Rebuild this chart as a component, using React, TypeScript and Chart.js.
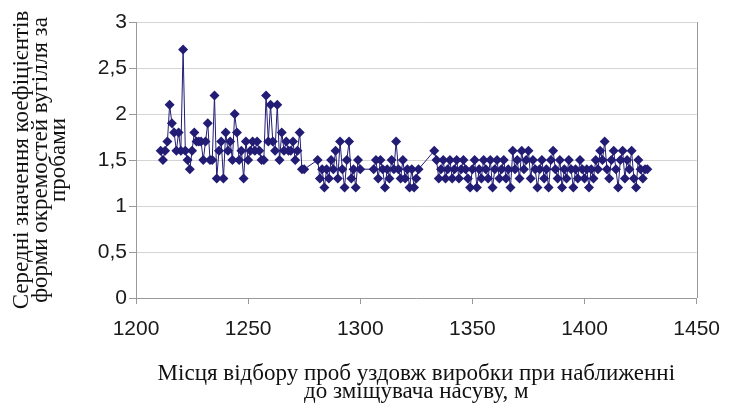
import React, { useEffect, useRef } from "react";
import { Chart, registerables } from "chart.js";

Chart.register(...registerables);

// Sampling positions along the working (m)
const distances: number[] = [
  1211, 1212, 1213, 1214, 1215, 1216, 1217, 1218, 1219, 1220,
  1221, 1222, 1223, 1224, 1225, 1226, 1227, 1228, 1229, 1230,
  1231, 1232, 1233, 1234, 1235, 1236, 1237, 1238, 1239, 1240,
  1241, 1242, 1243, 1244, 1245, 1246, 1247, 1248, 1249, 1250,
  1251, 1252, 1253, 1254, 1255, 1256, 1257, 1258, 1259, 1260,
  1261, 1262, 1263, 1264, 1265, 1266, 1267, 1268, 1269, 1270,
  1271, 1272, 1273, 1274, 1275,
  1281, 1282, 1283, 1284, 1285, 1286, 1287, 1288, 1289, 1290,
  1291, 1292, 1293, 1294, 1295, 1296, 1297, 1298, 1299, 1300,
  1306, 1307, 1308, 1309, 1310, 1311, 1312, 1313, 1314, 1315,
  1316, 1317, 1318, 1319, 1320, 1321, 1322, 1323, 1324, 1325, 1326,
  1333, 1334, 1335, 1336, 1337, 1338, 1339, 1340, 1341, 1342,
  1343, 1344, 1345, 1346, 1347, 1348, 1349, 1350, 1351, 1352,
  1353, 1354, 1355, 1356, 1357, 1358, 1359, 1360, 1361, 1362,
  1363, 1364, 1365, 1366, 1367, 1368, 1369, 1370, 1371, 1372,
  1373, 1374, 1375, 1376, 1377, 1378, 1379, 1380, 1381, 1382,
  1383, 1384, 1385, 1386, 1387, 1388, 1389, 1390, 1391, 1392,
  1393, 1394, 1395, 1396, 1397, 1398, 1399, 1400, 1401, 1402,
  1403, 1404, 1405, 1406, 1407, 1408, 1409, 1410, 1411, 1412,
  1413, 1414, 1415, 1416, 1417, 1418, 1419, 1420, 1421, 1422,
  1423, 1424, 1425, 1426, 1427, 1428,
];

// Mean shape coefficients of coal fragments per sample
const coefficients: number[] = [
  1.6, 1.5, 1.6, 1.7, 2.1, 1.9, 1.8, 1.6, 1.8, 1.6,
  2.7, 1.6, 1.5, 1.4, 1.6, 1.8, 1.7, 1.7, 1.7, 1.5,
  1.7, 1.9, 1.5, 1.5, 2.2, 1.3, 1.6, 1.7, 1.3, 1.8,
  1.6, 1.7, 1.5, 2.0, 1.8, 1.5, 1.6, 1.3, 1.7, 1.5,
  1.6, 1.7, 1.6, 1.7, 1.6, 1.5, 1.5, 2.2, 1.7, 2.1,
  1.7, 1.6, 2.1, 1.5, 1.8, 1.6, 1.7, 1.6, 1.6, 1.7,
  1.5, 1.6, 1.8, 1.4, 1.4,
  1.5, 1.3, 1.4, 1.2, 1.4, 1.3, 1.5, 1.4, 1.6, 1.3,
  1.7, 1.4, 1.2, 1.5, 1.7, 1.3, 1.4, 1.2, 1.5, 1.4,
  1.4, 1.5, 1.3, 1.5, 1.4, 1.2, 1.4, 1.3, 1.5, 1.4,
  1.7, 1.4, 1.3, 1.5, 1.3, 1.4, 1.2, 1.4, 1.2, 1.3, 1.4,
  1.6, 1.5, 1.3, 1.4, 1.5, 1.3, 1.4, 1.5, 1.3, 1.4,
  1.5, 1.3, 1.4, 1.5, 1.4, 1.3, 1.2, 1.4, 1.5, 1.2,
  1.4, 1.3, 1.5, 1.4, 1.3, 1.5, 1.2, 1.4, 1.5, 1.3,
  1.4, 1.5, 1.3, 1.4, 1.2, 1.6, 1.4, 1.5, 1.3, 1.6,
  1.4, 1.5, 1.6, 1.3, 1.5, 1.4, 1.2, 1.4, 1.5, 1.3,
  1.4, 1.2, 1.5, 1.6, 1.4, 1.3, 1.5, 1.2, 1.4, 1.3,
  1.5, 1.4, 1.2, 1.4, 1.3, 1.5, 1.4, 1.3, 1.4, 1.2,
  1.4, 1.3, 1.5, 1.4, 1.6, 1.5, 1.7, 1.4, 1.3, 1.5,
  1.6, 1.4, 1.2, 1.5, 1.6, 1.3, 1.5, 1.4, 1.6, 1.3,
  1.2, 1.5, 1.4, 1.3, 1.4, 1.4,
];

const xTitleLines: string[] = [
  "Місця відбору проб уздовж виробки при наближенні",
  "до зміщувача насуву, м",
];
const yTitleLines: string[] = [
  "Середні значення коефіцієнтів",
  "форми окремостей вугілля за",
  "пробами",
];

const xMin = 1200;
const xMax = 1450;
const xStep = 50;
const yMin = 0;
const yMax = 3;
const yStep = 0.5;

const markColor = "#221c74";
const axisGray = "#9a9a9a";
const gridGray = "#d4d4d4";

const plotBorder = {
  id: "plotBorder",
  afterDraw(chart: any) {
    const { ctx, chartArea } = chart;
    ctx.save();
    ctx.strokeStyle = axisGray;
    ctx.lineWidth = 1;
    ctx.beginPath();
    ctx.moveTo(Math.round(chartArea.right) + 0.5, chartArea.top);
    ctx.lineTo(Math.round(chartArea.right) + 0.5, chartArea.bottom);
    ctx.stroke();
    ctx.restore();
  },
};

export default function App() {
  const ref = useRef<HTMLCanvasElement | null>(null);

  useEffect(() => {
    if (!ref.current) return;
    const points = distances.map((d, i) => ({ x: d, y: coefficients[i] }));
    const chart = new Chart(ref.current, {
      type: "line",
      data: {
        datasets: [
          {
            data: points,
            borderColor: markColor,
            backgroundColor: markColor,
            borderWidth: 1,
            pointStyle: "rectRot",
            pointRadius: 5,
            pointBorderWidth: 0,
            pointBackgroundColor: markColor,
            tension: 0,
          },
        ],
      },
      options: {
        animation: false,
        responsive: false,
        devicePixelRatio: 1,
        layout: { padding: { top: 22, right: 33, bottom: 0, left: 0 } },
        plugins: {
          legend: { display: false },
          tooltip: { enabled: false },
        },
        scales: {
          x: {
            type: "linear",
            min: xMin,
            max: xMax,
            afterFit(scale: any) {
              scale.height = 105;
            },
            ticks: {
              stepSize: xStep,
              color: "#1a1a1a",
              padding: 13,
              font: { family: "Liberation Sans", size: 21 },
              maxRotation: 0,
              callback: (v: any) => String(v),
            },
            grid: {
              drawOnChartArea: false,
              drawTicks: true,
              tickLength: 6,
              color: axisGray,
            },
            border: { display: true, color: axisGray, width: 1 },
            title: {
              display: true,
              text: xTitleLines,
              color: "#111",
              font: { family: "Liberation Serif", size: 23, lineHeight: "18px" },
              padding: { top: 0, bottom: 2 },
            },
          },
          y: {
            type: "linear",
            min: yMin,
            max: yMax,
            afterFit(scale: any) {
              scale.width = 136;
            },
            ticks: {
              stepSize: yStep,
              color: "#1a1a1a",
              padding: 2,
              font: { family: "Liberation Sans", size: 21 },
              callback: (v: any) => String(v).replace(".", ","),
            },
            grid: {
              color: gridGray,
              tickColor: axisGray,
              tickLength: 7,
            },
            border: { display: true, color: axisGray, width: 1 },
            title: {
              display: true,
              text: yTitleLines,
              color: "#111",
              font: { family: "Liberation Serif", size: 23, lineHeight: "18.5px" },
              padding: { top: 13, bottom: 0 },
            },
          },
        },
      },
      plugins: [plotBorder],
    });
    return () => chart.destroy();
  }, []);

  return (
    <div style={{ position: "fixed", left: 0, top: 0, width: 733, height: 403, background: "#fff" }}>
      <canvas ref={ref} width={733} height={403} style={{ width: 733, height: 403 }} />
    </div>
  );
}
